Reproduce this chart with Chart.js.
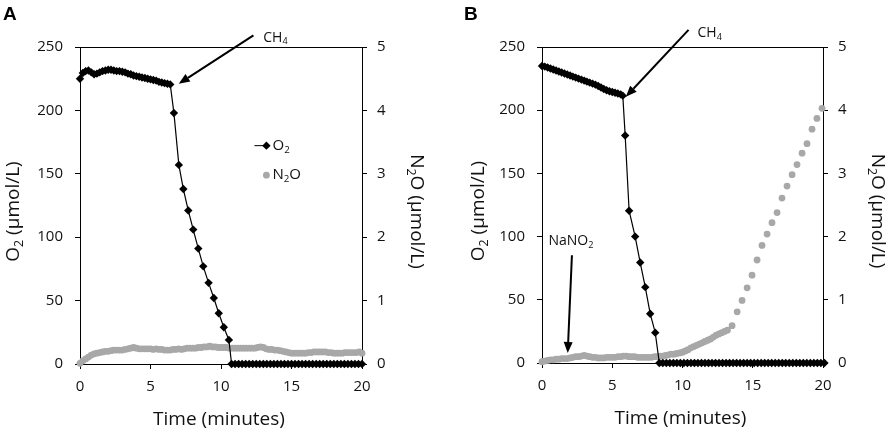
<!DOCTYPE html>
<html><head><meta charset="utf-8">
<script src="https://cdn.jsdelivr.net/npm/chart.js@4.4.1/dist/chart.umd.min.js"></script>
<style>
html,body{margin:0;padding:0;background:#fff;width:892px;height:435px;overflow:hidden}
.p{position:absolute;top:0;width:446px;height:435px}
</style></head><body>
<div class="p" style="left:0"><canvas id="cA"></canvas></div>
<div class="p" style="left:446px"><canvas id="cB"></canvas></div>
<script>
// ---------- tick labels ----------
const xTicks = [0, 5, 10, 15, 20];
const yTicks = [0, 50, 100, 150, 200, 250];
const y2Ticks = [0, 1, 2, 3, 4, 5];

// ---------- Panel A ----------
const A_O2_t = [0,0.2,0.4,0.6,0.8,1,1.2,1.4,1.6,1.8,2,2.2,2.4,2.6,2.8,3,3.2,3.4,3.6,3.8,4,4.2,4.4,4.6,4.8,5,5.2,5.4,5.6,5.8,6,6.2,6.4,
  6.66,7.01,7.33,7.68,8.03,8.39,8.74,9.12,9.49,9.84,10.2,10.56,
  10.75,11,11.25,11.5,11.75,12,12.25,12.5,12.75,13,13.25,13.5,13.75,14,14.25,14.5,14.75,15,15.25,15.5,15.75,16,16.25,16.5,16.75,17,17.25,17.5,17.75,18,18.25,18.5,18.75,19,19.25,19.5,19.75,20];
const A_O2_v = [225,229.5,231,231.5,230,228.5,229,230,231,231.5,232,232,231.5,231,231,230.5,230,229,228.5,227.5,227,226.5,226,225.5,225,224.5,224,223.5,222.5,222,221.5,221,220.5,
  198,157,138,121,106,91,77,64,52,40,29,19,
  0,0,0,0,0,0,0,0,0,0,0,0,0,0,0,0,0,0,0,0,0,0,0,0,0,0,0,0,0,0,0,0,0,0,0,0,0,0];
const A_N2O_t = [0,0.2,0.4,0.6,0.8,1,1.2,1.4,1.6,1.8,2,2.2,2.4,2.6,2.8,3,3.2,3.4,3.6,3.8,4,4.2,4.4,4.6,4.8,5,5.2,5.4,5.6,5.8,6,6.2,6.4,6.6,6.8,7,7.2,7.4,7.6,7.8,8,8.2,8.4,8.6,8.8,9,9.2,9.4,9.6,9.8,10,10.2,10.4,10.6,10.8,11,11.2,11.4,11.6,11.8,12,12.2,12.4,12.6,12.8,13,13.2,13.4,13.6,13.8,14,14.2,14.4,14.6,14.8,15,15.2,15.4,15.6,15.8,16,16.2,16.4,16.6,16.8,17,17.2,17.4,17.6,17.8,18,18.2,18.4,18.6,18.8,19,19.2,19.4,19.6,19.8,20];
const A_N2O_v = [0.01,0.05,0.08,0.11,0.14,0.16,0.17,0.18,0.19,0.2,
  0.2,0.21,0.22,0.22,0.22,0.22,0.23,0.24,0.25,0.26,
  0.25,0.24,0.24,0.24,0.24,0.24,0.23,0.24,0.23,0.23,
  0.22,0.22,0.22,0.23,0.23,0.24,0.23,0.24,0.25,0.25,
  0.25,0.25,0.26,0.26,0.27,0.27,0.28,0.27,0.27,0.26,
  0.26,0.26,0.26,0.25,0.25,0.25,0.25,0.25,0.25,0.25,
  0.25,0.25,0.25,0.26,0.27,0.26,0.24,0.23,0.23,0.22,
  0.22,0.21,0.2,0.19,0.18,0.17,0.17,0.17,0.17,0.17,
  0.17,0.18,0.18,0.19,0.19,0.19,0.19,0.19,0.18,0.18,
  0.17,0.17,0.17,0.17,0.18,0.18,0.18,0.18,0.18,0.19,
  0.17];

// ---------- Panel B ----------
const B_O2_t = [0,0.2,0.4,0.6,0.8,1,1.2,1.4,1.6,1.8,2,2.2,2.4,2.6,2.8,3,3.2,3.4,3.6,3.8,4,4.2,4.4,4.6,4.8,5,5.2,5.4,5.6,5.75,
  5.92,6.2,6.63,6.99,7.35,7.7,8.06,
  8.35,8.6,8.85,9.1,9.35,9.6,9.85,10.1,10.35,10.6,10.85,11.1,11.35,11.6,11.85,12.1,12.35,12.6,12.85,13.1,13.35,13.6,13.85,14.1,14.35,14.6,14.85,15.1,15.35,15.6,15.85,16.1,16.35,16.6,16.85,17.1,17.35,17.6,17.85,18.1,18.35,18.6,18.85,19.1,19.35,19.6,19.85,20.1];
const B_O2_v = [235,234.5,233.8,233,232.2,231.4,230.6,229.8,229,228.2,227.4,226.6,225.8,225,224.2,223.4,222.6,221.8,221,220.2,219.2,218,216.8,215.8,215,214.4,213.8,213.2,212.5,211.5,
  180,120.5,100,79.5,60,39,24,
  0,0,0,0,0,0,0,0,0,0,0,0,0,0,0,0,0,0,0,0,0,0,0,0,0,0,0,0,0,0,0,0,0,0,0,0,0,0,0,0,0,0,0,0,0,0,0,0];
const B_N2O_t = [0,0.2,0.4,0.6,0.8,1,1.2,1.4,1.6,1.8,2,2.2,2.4,2.6,2.8,3,3.2,3.4,3.6,3.8,4,4.2,4.4,4.6,4.8,5,5.2,5.4,5.6,5.8,6,6.2,6.4,6.6,6.8,7,7.2,7.4,7.6,7.8,8,8.2,8.4,8.6,8.8,9,9.2,9.4,9.6,9.8,10,10.2,10.4,10.6,10.8,11,11.2,11.4,11.6,11.8,12,12.2,12.4,12.6,12.8,13,13.2,
  13.53,13.89,14.24,14.6,14.95,15.31,15.66,16.02,16.37,16.73,17.08,17.44,17.8,18.15,18.51,18.86,19.22,19.57,19.93];
const B_N2O_v = [0.02,0.03,0.04,0.05,0.05,0.06,0.06,0.07,0.07,0.07,
  0.08,0.09,0.1,0.1,0.11,0.12,0.11,0.1,0.09,0.09,
  0.08,0.08,0.08,0.09,0.09,0.09,0.09,0.1,0.1,0.11,
  0.11,0.1,0.1,0.1,0.09,0.09,0.09,0.09,0.09,0.09,
  0.1,0.1,0.11,0.11,0.12,0.13,0.14,0.14,0.15,0.16,
  0.17,0.19,0.21,0.24,0.26,0.28,0.3,0.32,0.34,0.36,
  0.38,0.41,0.44,0.46,0.48,0.5,0.52,
  0.59,0.81,0.99,1.19,1.39,1.63,1.86,2.04,2.22,2.38,2.61,2.8,2.98,3.14,3.32,3.47,3.7,3.87,4.03];

const FONT = "'Open Sans', 'Liberation Sans', sans-serif";
const TXT = '#111';
const GREY = '#a8a8a8';

function pts(t, v) { return t.map((x, i) => ({ x: x, y: v[i] })); }

// rich text: segs = [[text, isSub], ...]
function richWidth(ctx, segs, size) {
  let w = 0;
  for (const [s, sub] of segs) {
    ctx.font = (sub ? size * 0.65 : size) + 'px ' + FONT;
    w += ctx.measureText(s).width;
  }
  return w;
}
function drawRich(ctx, segs, x, y, size, align) {
  const w = richWidth(ctx, segs, size);
  let cx = align === 'center' ? x - w / 2 : x;
  ctx.textAlign = 'left';
  ctx.textBaseline = 'middle';
  for (const [s, sub] of segs) {
    ctx.font = (sub ? size * 0.65 : size) + 'px ' + FONT;
    ctx.fillText(s, cx, sub ? y + size * 0.28 : y);
    cx += ctx.measureText(s).width;
  }
}
function arrow(ctx, x1, y1, x2, y2) {
  const ang = Math.atan2(y2 - y1, x2 - x1);
  const L = 11, H = 4.5;
  const bx = x2 - L * Math.cos(ang), by = y2 - L * Math.sin(ang);
  ctx.strokeStyle = '#000'; ctx.fillStyle = '#000'; ctx.lineWidth = 2;
  ctx.beginPath(); ctx.moveTo(x1, y1); ctx.lineTo(bx, by); ctx.stroke();
  ctx.beginPath();
  ctx.moveTo(x2, y2);
  ctx.lineTo(bx + H * Math.sin(ang), by - H * Math.cos(ang));
  ctx.lineTo(bx - H * Math.sin(ang), by + H * Math.cos(ang));
  ctx.closePath(); ctx.fill();
}

const O2_LABEL = [['O', 0], ['2', 1], [' (µmol/L)', 0]];
const N2O_LABEL = [['N', 0], ['2', 1], ['O (µmol/L)', 0]];

function makeChart(id, cfg) {
  const deco = {
    id: 'deco',
    afterDraw(chart) {
      const ctx = chart.ctx, a = chart.chartArea;
      const sx = chart.scales.x, sy = chart.scales.y;
      const X = v => sx.getPixelForValue(v), Y = v => sy.getPixelForValue(v);
      const midY = (a.top + a.bottom) / 2 + 6;
      ctx.save();
      // top frame line
      ctx.strokeStyle = '#000'; ctx.lineWidth = 1;
      ctx.beginPath(); ctx.moveTo(a.left, Math.round(a.top) + 0.5); ctx.lineTo(a.right + 0.5, Math.round(a.top) + 0.5); ctx.stroke();
      ctx.fillStyle = TXT;
      // axis titles
      drawRich(ctx, [['Time (minutes)', 0]], (a.left + a.right) / 2 - 2, a.bottom + 56, 19, 'center');
      ctx.save(); ctx.translate(a.left - cfg.leftTitleOff, midY); ctx.rotate(-Math.PI / 2);
      drawRich(ctx, O2_LABEL, 0, 0, 19, 'center'); ctx.restore();
      ctx.save(); ctx.translate(a.right + 54, midY); ctx.rotate(Math.PI / 2);
      drawRich(ctx, N2O_LABEL, 0, 0, 19, 'center'); ctx.restore();
      // panel letter
      ctx.font = 'bold 19px "Liberation Sans", Arial, sans-serif';
      ctx.fillStyle = '#000'; ctx.textAlign = 'left'; ctx.textBaseline = 'alphabetic';
      ctx.fillText(cfg.letter, cfg.letterX, 20);
      // annotations
      for (const an of cfg.arrows) {
        arrow(ctx, X(an.from[0]), Y(an.from[1]), X(an.to[0]), Y(an.to[1]));
        ctx.fillStyle = TXT;
        drawRich(ctx, an.label, X(an.at[0]), Y(an.at[1]), 14, an.align);
      }
      // legend
      if (cfg.legend) {
        const lg = cfg.legend;
        const ly1 = Y(lg.y1), ly2 = Y(lg.y2), lx0 = X(lg.x0), lx = X(lg.xm), lt = X(lg.xt);
        ctx.strokeStyle = '#000'; ctx.lineWidth = 1;
        ctx.beginPath(); ctx.moveTo(lx0, ly1); ctx.lineTo(lx, ly1); ctx.stroke();
        ctx.fillStyle = '#000';
        ctx.beginPath(); ctx.moveTo(lx, ly1 - 4.2); ctx.lineTo(lx + 4.2, ly1); ctx.lineTo(lx, ly1 + 4.2); ctx.lineTo(lx - 4.2, ly1); ctx.closePath(); ctx.fill();
        ctx.fillStyle = GREY;
        ctx.beginPath(); ctx.arc(lx, ly2, 3.4, 0, Math.PI * 2); ctx.fill();
        ctx.fillStyle = TXT;
        drawRich(ctx, [['O', 0], ['2', 1]], lt, ly1, 15, 'left');
        drawRich(ctx, [['N', 0], ['2', 1], ['O', 0]], lt, ly2, 15, 'left');
      }
      ctx.restore();
    }
  };
  const axisCommon = (ticksArr, fit) => ({
    type: 'linear',
    afterBuildTicks: s => { s.ticks = ticksArr.map(v => ({ value: v })); },
    grid: { drawOnChartArea: false, drawTicks: true, tickLength: 5, color: '#000', tickColor: '#000', lineWidth: 1 },
    border: { display: true, color: '#000', width: 1 },
    ticks: { color: TXT, font: { size: 15, family: FONT }, maxRotation: 0, autoSkip: false },
    afterFit: fit
  });
  const xAx = axisCommon(xTicks, s => { s.height = cfg.xH; });
  xAx.min = 0; xAx.max = 20; xAx.ticks.padding = 9;
  const yAx = axisCommon(yTicks, s => { s.width = cfg.yW; });
  yAx.position = 'left'; yAx.min = 0; yAx.max = 250; yAx.ticks.padding = 12;
  const y2Ax = axisCommon(y2Ticks, s => { s.width = cfg.y2W; });
  y2Ax.position = 'right'; y2Ax.min = 0; y2Ax.max = 5; y2Ax.ticks.padding = 10;

  return new Chart(document.getElementById(id), {
    type: 'line',
    data: {
      datasets: [
        { label: 'O2', data: pts(cfg.o2t, cfg.o2v), yAxisID: 'y', borderColor: '#000', borderWidth: 1.2,
          pointStyle: 'rectRot', pointRadius: 4.2, pointBackgroundColor: '#000', pointBorderColor: '#000', pointBorderWidth: 0,
          clip: false, tension: 0 },
        { label: 'N2O', data: pts(cfg.n2ot, cfg.n2ov), yAxisID: 'y2', showLine: false,
          pointStyle: 'circle', pointRadius: 3.4, pointBackgroundColor: GREY, pointBorderColor: GREY, pointBorderWidth: 0,
          clip: false }
      ]
    },
    options: {
      responsive: true, maintainAspectRatio: false, animation: false,
      layout: { padding: { top: 47, left: 0, right: 0, bottom: 0 } },
      plugins: { legend: { display: false }, tooltip: { enabled: false } },
      scales: { x: xAx, y: yAx, y2: y2Ax }
    },
    plugins: [deco]
  });
}

makeChart('cA', {
  o2t: A_O2_t, o2v: A_O2_v, n2ot: A_N2O_t, n2ov: A_N2O_v,
  yW: 80, y2W: 84, xH: 71, leftTitleOff: 66, letter: 'A', letterX: 3,
  arrows: [ { from: [12.3, 259.2], to: [7.0, 221], label: [['CH', 0], ['4', 1]], at: [13.0, 257.4], align: 'left' } ],
  legend: { x0: 12.37, xm: 13.22, xt: 13.65, y1: 172.2, y2: 148.9 }
});
makeChart('cB', {
  o2t: B_O2_t, o2v: B_O2_v, n2ot: B_N2O_t, n2ov: B_N2O_v,
  yW: 96, y2W: 69, xH: 72, leftTitleOff: 63, letter: 'B', letterX: 18,
  arrows: [
    { from: [10.43, 263.5], to: [5.97, 210.6], label: [['CH', 0], ['4', 1]], at: [11.07, 261], align: 'left' },
    { from: [2.13, 85.3], to: [1.83, 7.9], label: [['NaNO', 0], ['2', 1]], at: [2.06, 96.4], align: 'center' }
  ],
  legend: null
});
</script></body></html>
